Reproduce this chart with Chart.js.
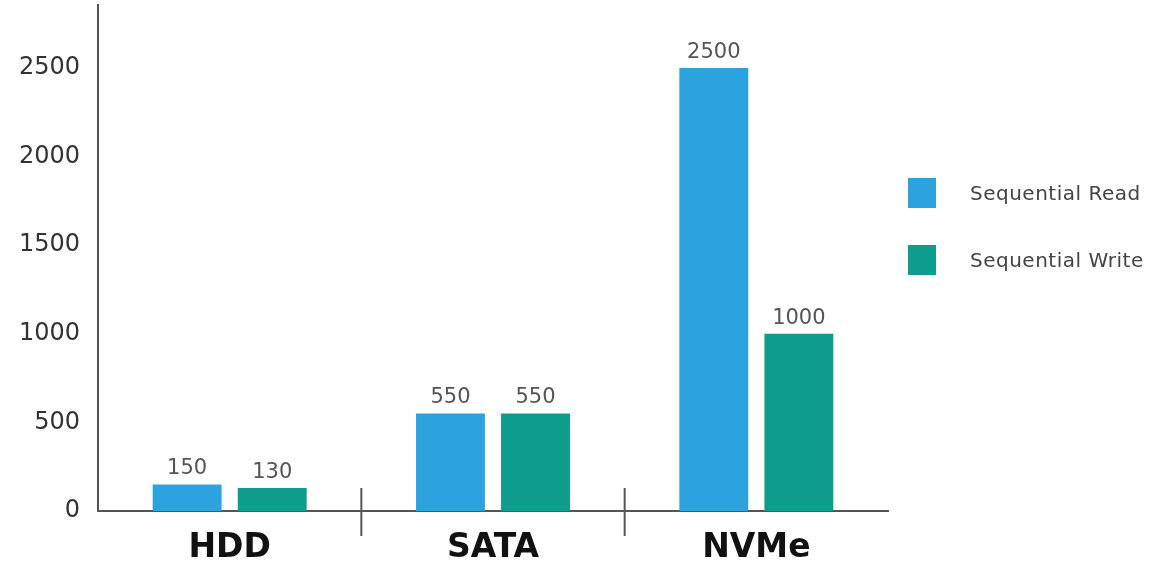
<!DOCTYPE html>
<html>
<head>
<meta charset="utf-8">
<script src="https://cdn.jsdelivr.net/npm/chart.js@4.4.1/dist/chart.umd.min.js"></script>
<style>
body { margin: 0; background: #fff; }
#wrap { position: relative; width: 1159px; height: 565px; }
#legend { position: absolute; left: 908px; top: 178px; font-family: "DejaVu Sans", sans-serif; font-size: 20px; letter-spacing: 0.5px; color: #444; }
.item { display: flex; align-items: center; height: 30px; margin-bottom: 37px; }
.box { width: 28px; height: 30px; margin-right: 34px; }
</style>
</head>
<body>
<div id="wrap">
  <canvas id="speedChart" width="1159" height="565"></canvas>
  <div id="legend"></div>
</div>
<script>
var categories = ['HDD', 'SATA', 'NVMe'];
var readSpeed = [150, 550, 2500];
var writeSpeed = [130, 550, 1000];
var seriesNames = ['Sequential Read', 'Sequential Write'];
var seriesColors = ['#2ca3df', '#0e9c8c'];
var tickValues = [0, 500, 1000, 1500, 2000, 2500];

// numbers above each bar
const valueLabels = {
    id: 'valueLabels',
    afterDatasetsDraw(chart) {
        const ctx = chart.ctx;
        ctx.save();
        ctx.font = '21px "DejaVu Sans"';
        ctx.fillStyle = '#555';
        ctx.textAlign = 'center';
        ctx.textBaseline = 'bottom';
        chart.data.datasets.forEach((ds, i) => {
            chart.getDatasetMeta(i).data.forEach((bar, j) => {
                ctx.fillText(ds.data[j], bar.x, bar.y - 5);
            });
        });
        ctx.restore();
    }
};

// short dividers between the groups, crossing the x axis
const groupDividers = {
    id: 'groupDividers',
    afterDraw(chart) {
        const ctx = chart.ctx;
        const x = chart.scales.x;
        const bottom = chart.chartArea.bottom;
        ctx.save();
        ctx.strokeStyle = '#555';
        ctx.lineWidth = 2;
        for (let i = 1; i < categories.length; i++) {
            const px = (x.getPixelForValue(i - 1) + x.getPixelForValue(i)) / 2;
            ctx.beginPath();
            ctx.moveTo(px, bottom - 23);
            ctx.lineTo(px, bottom + 25);
            ctx.stroke();
        }
        ctx.restore();
    }
};

const ctx = document.getElementById('speedChart').getContext('2d');
const chart = new Chart(ctx, {
    type: 'bar',
    data: {
        labels: categories,
        datasets: [
            { label: seriesNames[0], data: readSpeed, backgroundColor: seriesColors[0] },
            { label: seriesNames[1], data: writeSpeed, backgroundColor: seriesColors[1] }
        ]
    },
    options: {
        responsive: false,
        animation: false,
        categoryPercentage: 0.646,
        barPercentage: 0.81,
        layout: { padding: { top: 5, right: 271, left: 0, bottom: 0 } },
        plugins: {
            legend: { display: false },
            tooltip: { enabled: false }
        },
        scales: {
            x: {
                grid: { display: false, drawTicks: false },
                border: { display: true, color: '#555', width: 2 },
                ticks: {
                    padding: 18,
                    color: '#111',
                    font: { family: 'DejaVu Sans', size: 33, weight: 'bold' }
                },
                afterFit(scale) {
                    scale.height = 54;
                    scale.paddingLeft = 0;
                    scale.paddingRight = 0;
                }
            },
            y: {
                min: 0,
                max: 2855,
                grid: { display: false, drawTicks: false },
                border: { display: true, color: '#555', width: 2 },
                afterBuildTicks(scale) {
                    scale.ticks = tickValues.map(v => ({ value: v }));
                },
                ticks: {
                    padding: 18,
                    color: '#333',
                    font: { family: 'DejaVu Sans', size: 24 },
                    callback: v => String(v)
                },
                afterFit(scale) {
                    scale.width = 98;
                    scale.paddingTop = 0;
                    scale.paddingBottom = 0;
                }
            }
        }
    },
    plugins: [valueLabels, groupDividers]
});

// html legend built from the chart's datasets
const legend = document.getElementById('legend');
chart.data.datasets.forEach(ds => {
    const item = document.createElement('div');
    item.className = 'item';
    const box = document.createElement('span');
    box.className = 'box';
    box.style.background = ds.backgroundColor;
    const text = document.createElement('span');
    text.textContent = ds.label;
    item.appendChild(box);
    item.appendChild(text);
    legend.appendChild(item);
});
</script>
</body>
</html>
